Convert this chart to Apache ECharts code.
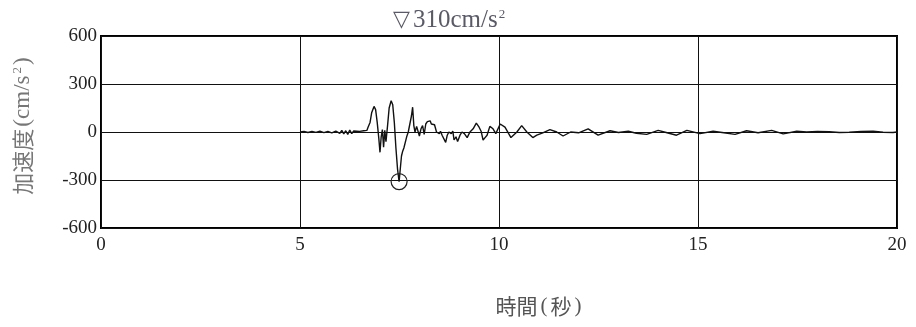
<!DOCTYPE html>
<html><head><meta charset="utf-8">
<script src="https://cdn.jsdelivr.net/npm/echarts@6/dist/echarts.min.js"></script>
<style>html,body{margin:0;padding:0;background:#fff}#c{width:916px;height:327px}</style>
</head><body><div id="c"></div>
<script>
const titleMark = '▽';
const titleValue = '310cm/s';
const titleSup = '2';
const xNameParts = ['時間', '(', '秒', ')'];
const yNameParts = ['加速度', '(cm/s', '2', ')'];
const xTicks = [0, 5, 10, 15, 20];
const yTicks = [-600, -300, 0, 300, 600];
const peakTime = 7.49, peakValue = -310;
const times = [5.00,5.10,5.20,5.30,5.40,5.50,5.60,5.70,5.80,5.90,6.00,6.05,6.10,6.15,6.20,6.25,6.30,6.35,6.40,6.50,6.55,6.60,6.65,
 6.68,6.71,6.73,6.76,6.80,6.86,6.90,6.94,6.98,7.01,7.04,7.07,7.10,7.13,7.16,7.20,7.24,7.29,7.33,7.37,7.41,7.45,7.49,7.52,7.55,7.58,7.61,7.64,7.68,7.72,7.76,7.80,7.83,7.86,7.89,7.93,7.96,8.00,8.04,8.08,8.12,8.16,8.20,8.24,8.27,8.30,8.34,8.38,8.43,8.47,8.50,8.53,8.57,8.62,8.66,8.70,8.74,8.80,8.84,8.87,8.92,8.96,9.02,9.07,9.13,9.20,9.24,9.27,9.31,9.35,9.43,9.50,9.55,9.60,9.65,9.70,9.77,9.85,9.92,
 10.03,10.15,10.30,10.45,10.57,10.70,10.85,10.95,11.10,11.28,11.45,11.61,11.80,12.00,12.24,12.49,12.79,13.00,13.25,13.45,13.71,14.00,14.20,14.46,14.72,15.05,15.38,15.65,15.93,16.22,16.51,16.85,17.14,17.48,17.73,18.00,18.30,18.55,18.80,19.10,19.40,19.65,19.90,20.00];
const accel = [0,3,-3,4,-2,5,-4,3,-5,6,-8,10,-12,8,-15,12,-10,6,-5,4,-6,8,5,
 10,30,25,60,120,160,140,60,-40,-127,-30,15,-95,10,-60,40,150,195,170,60,-100,-230,-310,-230,-150,-120,-100,-90,-30,0,10,100,155,40,0,35,45,-25,20,40,-15,50,65,55,70,50,60,45,0,10,-10,5,-20,-10,-65,-20,0,-10,5,-50,-30,-60,-20,0,-10,-35,-15,0,10,20,55,30,5,-50,-35,-20,35,20,-10,
 50,30,-35,0,40,0,-35,-20,-5,15,0,-25,0,-5,20,-20,8,-3,5,-8,-15,10,-3,-20,10,-10,5,-5,-15,8,-5,10,-12,5,0,3,2,-3,-2,4,5,-2,-3,0];
const data = times.map((t, i) => [t, accel[i]]);

const chart = echarts.init(document.getElementById('c'), null, {renderer: 'canvas'});
const serif = '"Liberation Serif", "Noto Sans CJK JP", serif';
const cjk = '"Noto Sans CJK JP", "Liberation Serif", serif';
chart.setOption({
  animation: false,
  grid: {left: 101, right: 19, top: 36, bottom: 99, show: true, borderColor: '#000', borderWidth: 2, backgroundColor: 'transparent'},
  xAxis: {type: 'value', min: xTicks[0], max: xTicks[xTicks.length-1], interval: 5,
    axisLine: {show: false}, axisTick: {show: false},
    axisLabel: {color: '#222', fontFamily: serif, fontSize: 19, margin: 8},
    splitLine: {show: true, lineStyle: {color: '#111', width: 1}}},
  yAxis: {type: 'value', min: yTicks[0], max: yTicks[yTicks.length-1], interval: 300,
    axisLine: {show: false}, axisTick: {show: false},
    axisLabel: {color: '#222', fontFamily: serif, fontSize: 19, margin: 4},
    splitLine: {show: true, lineStyle: {color: '#111', width: 1}}},
  graphic: [
    {type: 'text', x: 393, y: 8, style: {
      text: '{m|' + titleMark + '}{v|' + titleValue + '}{s|' + titleSup + '}',
      fill: '#5a5a66',
      rich: {
        m: {fontFamily: '"DejaVu Sans", sans-serif', fontSize: 22, fill: '#5a5a66', padding: [0, 3, 0, 0]},
        v: {fontFamily: serif, fontSize: 25, fill: '#5a5a66'},
        s: {fontFamily: serif, fontSize: 13, fill: '#5a5a66', verticalAlign: 'top', padding: [0, 0, 10, 1]}
      }}},
    {type: 'text', x: 540, y: 306, style: {
      text: '{c|' + xNameParts[0] + '}{p|' + xNameParts[1] + '}{c|' + xNameParts[2] + '}{p|' + xNameParts[3] + '}',
      align: 'center', verticalAlign: 'middle',
      rich: {
        c: {fontFamily: cjk, fontSize: 21, fill: '#555'},
        p: {fontFamily: serif, fontSize: 21, fill: '#555', padding: [0, 3]}
      }}},
    {type: 'text', x: 23, y: 125, rotation: Math.PI / 2, style: {
      text: '{c|' + yNameParts[0] + '}{p|' + yNameParts[1] + '}{s|' + yNameParts[2] + '}{p|' + yNameParts[3] + '}',
      align: 'center', verticalAlign: 'middle',
      rich: {
        c: {fontFamily: cjk, fontSize: 22, fill: '#777'},
        p: {fontFamily: serif, fontSize: 23, fill: '#777', padding: [0, 2]},
        s: {fontFamily: serif, fontSize: 13, fill: '#777', verticalAlign: 'top', padding: [0, 0, 9, 0]}
      }}}
  ],
  series: [{
    type: 'line', data: data, showSymbol: false, smooth: false,
    lineStyle: {color: '#111', width: 1.4},
    markPoint: {
      symbol: 'circle', symbolSize: 16,
      itemStyle: {color: 'transparent', borderColor: '#222', borderWidth: 1.2},
      label: {show: false},
      data: [{coord: [peakTime, peakValue]}]
    }
  }]
});
</script></body></html>
